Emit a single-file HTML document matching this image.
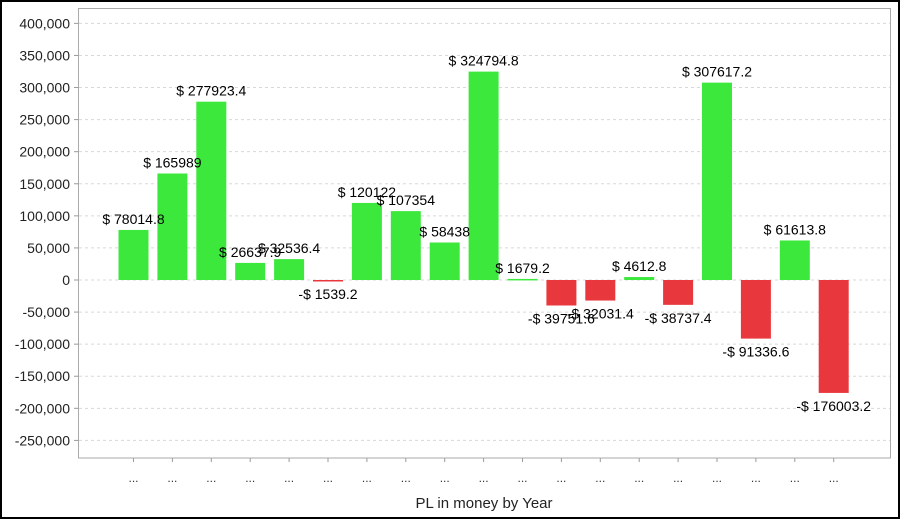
<!DOCTYPE html>
<html><head><meta charset="utf-8"><style>
html,body{margin:0;padding:0;background:#fff}
svg{display:block;font-family:"Liberation Sans",Arial,sans-serif}
</style></head><body>
<svg width="900" height="519" xmlns="http://www.w3.org/2000/svg">
<rect x="1" y="1" width="898" height="517" fill="#fff" stroke="#000" stroke-width="2"/>
<g id="grid" stroke="#d8d8d8" stroke-dasharray="3,3" stroke-width="1"></g>
<rect x="78.5" y="8.5" width="812" height="449.5" fill="none" stroke="#aaa" stroke-width="1"/>
<g id="ylab" font-size="14" fill="#222" text-anchor="end"></g>
<g id="bars"></g>
<g id="labs" font-size="14" fill="#000" text-anchor="middle"></g>
<g id="xt" font-size="12" fill="#333" text-anchor="middle"></g>
<text x="484" y="508" font-size="15" fill="#222" text-anchor="middle">PL in money by Year</text>
</svg>
<script>
var NS="http://www.w3.org/2000/svg";
function el(p,t,a,txt){var e=document.createElementNS(NS,t);for(var k in a)e.setAttribute(k,a[k]);if(txt!=null)e.textContent=txt;document.getElementById(p).appendChild(e);}
function Y(v){return 280-v*32.08/50000;}
for(var v=-250000;v<=400000;v+=50000){var y=Y(v);
 el("grid","line",{x1:79,x2:890,y1:y,y2:y});
 el("grid","line",{x1:74,x2:78,y1:y,y2:y,"stroke-dasharray":"none",stroke:"#999"});
 el("ylab","text",{x:70,y:y+5},v.toLocaleString("en-US"));}
var d=[78014.8,165989,277923.4,26637.9,32536.4,-1539.2,120122,107354,58438,324794.8,1679.2,-39751.6,-32031.4,4612.8,-38737.4,307617.2,-91336.6,61613.8,-176003.2];
var s=["$ 78014.8","$ 165989","$ 277923.4","$ 26637.9","$ 32536.4","-$ 1539.2","$ 120122","$ 107354","$ 58438","$ 324794.8","$ 1679.2","-$ 39751.6","-$ 32031.4","$ 4612.8","-$ 38737.4","$ 307617.2","-$ 91336.6","$ 61613.8","-$ 176003.2"];
for(var i=0;i<d.length;i++){var c=133.5+i*38.9;var v=d[i];var y0=Y(Math.max(v,0)),y1=Y(Math.min(v,0));
 el("bars","rect",{x:c-15,y:y0,width:30,height:Math.max(y1-y0,1.5),fill:v>=0?"#3de83d":"#e8383d"});
 if(v>=0)el("labs","text",{x:c,y:y0-6},s[i]);else el("labs","text",{x:c,y:y1+18},s[i]);
 el("grid","line",{x1:c,x2:c,y1:458,y2:462,"stroke-dasharray":"none",stroke:"#999"});
 el("xt","text",{x:c,y:482},"...");}
</script>
</body></html>
